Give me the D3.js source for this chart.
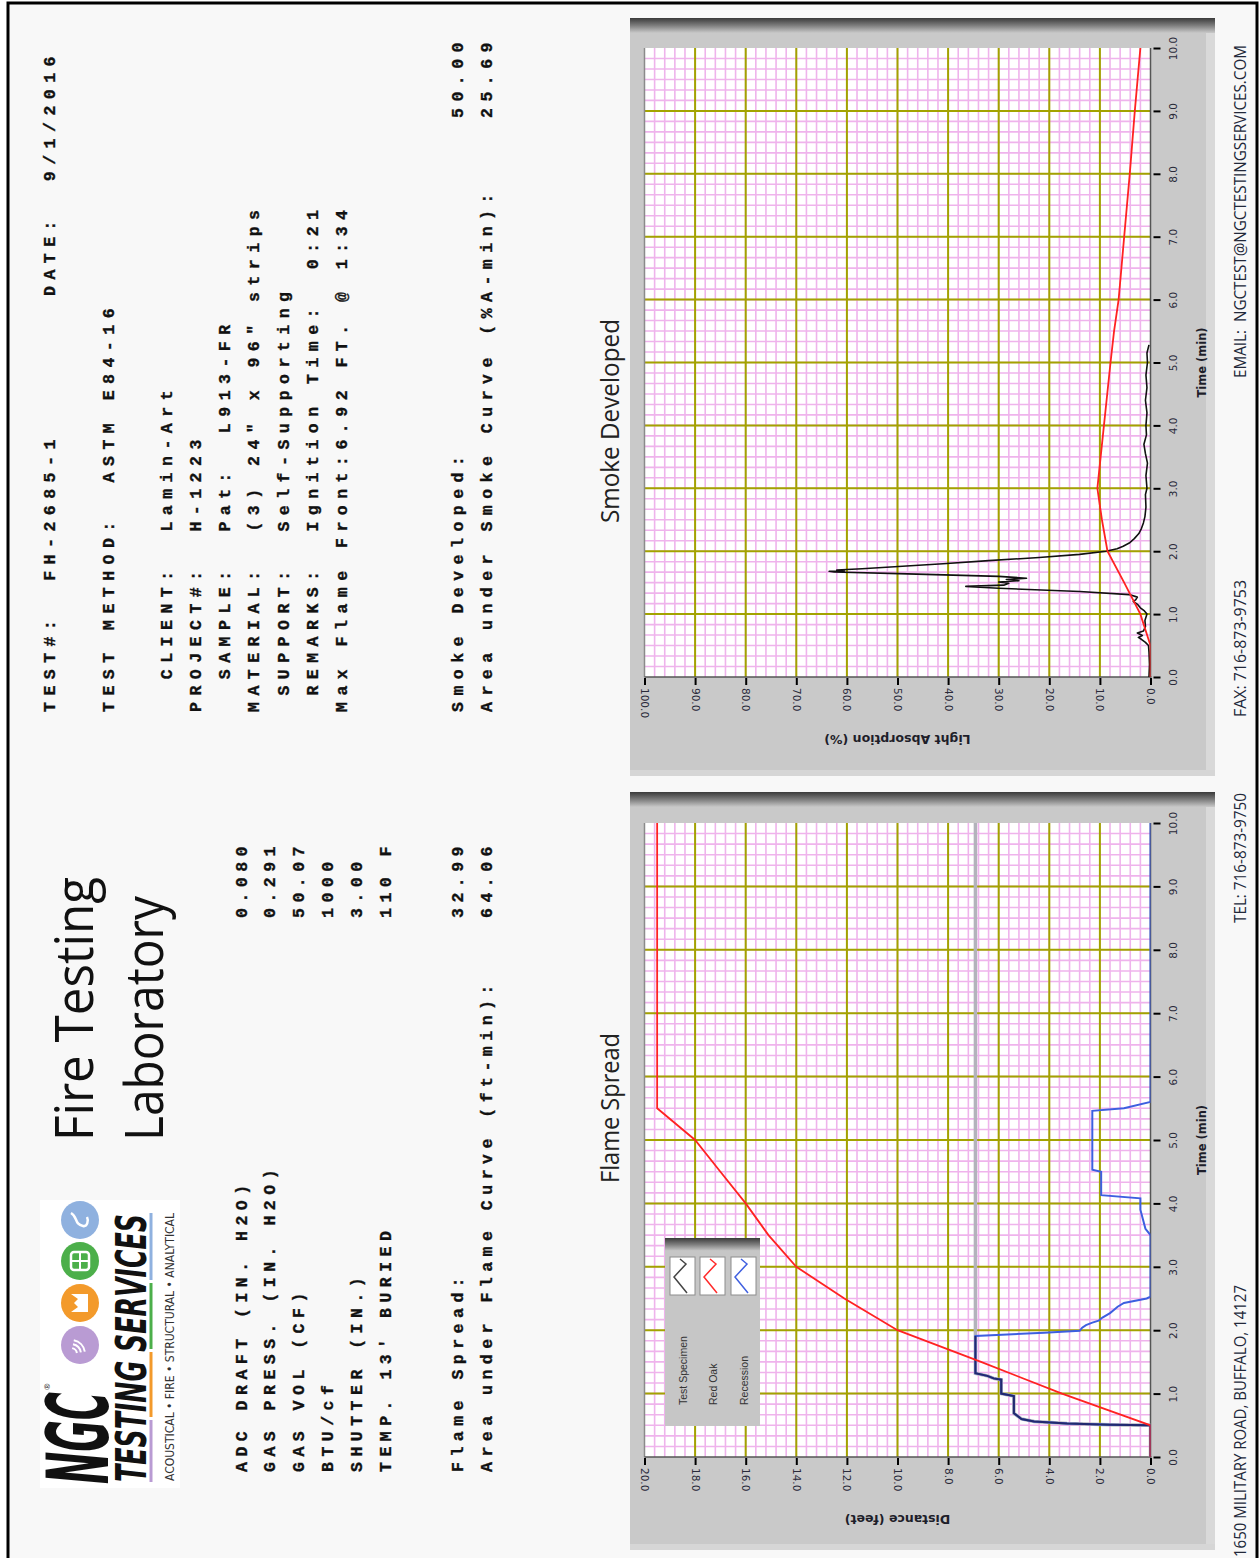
<!DOCTYPE html>
<html><head><meta charset="utf-8">
<script src="https://cdn.jsdelivr.net/npm/d3@7"></script>
<style>body{margin:0;background:#fff}svg{display:block}text{white-space:pre}</style>
</head><body>
<svg id="c" width="1260" height="1558"></svg>
<script>
// ---------------- DATA ----------------
const timeTicks = [0,1,2,3,4,5,6,7,8,9,10];
const smokeTicks = [0,10,20,30,40,50,60,70,80,90,100];
const flameTicks = [0,2,4,6,8,10,12,14,16,18,20];

// [time (min), light absorption %]
const smokeSpecimen = [[0,0.3],[0.2,0.2],[0.4,0.3],[0.5,0.4],[0.55,1.0],[0.6,1.8],[0.63,2.4],[0.66,1.6],[0.7,2.6],[0.73,1.4],[0.8,1.0],[0.9,1.1],[1.0,0.7],[1.05,1.2],[1.1,2.0],[1.15,2.5],[1.2,3.4],[1.23,2.9],[1.27,2.6],[1.31,4.2],[1.36,14],[1.41,30],[1.44,36.5],[1.46,29],[1.49,28],[1.51,30],[1.53,26],[1.55,28.5],[1.57,24.5],[1.6,30],[1.64,48],[1.67,62.5],[1.68,63.5],[1.69,60.5],[1.7,62],[1.72,57],[1.76,49],[1.8,41],[1.85,32],[1.9,22],[1.95,14],[2.0,8.8],[2.04,6.6],[2.08,5.4],[2.13,4.2],[2.2,3.2],[2.28,2.3],[2.36,1.8],[2.45,1.4],[2.55,1.1],[2.7,0.9],[2.9,1.0],[3.0,0.7],[3.2,0.9],[3.4,0.6],[3.55,1.0],[3.7,1.3],[3.85,0.8],[4.0,0.9],[4.2,0.7],[4.4,1.0],[4.6,0.7],[4.8,0.9],[5.0,0.6],[5.15,0.7],[5.28,0.3]];
const smokeRedOak = [[0,0],[0.5,0],[1.0,2.0],[1.5,5.2],[2.0,8.5],[2.5,9.6],[3.0,10.5],[4.0,9.2],[5.0,7.9],[5.5,7.2],[6.0,6.3],[7.0,5.2],[8.0,4.1],[9.0,3.1],[10.0,2.0]];

// [time (min), distance ft]
const flameRedOak = [[0,0],[0.5,0],[1.0,3.5],[1.5,6.7],[2.0,10],[2.5,12.1],[3.0,14],[3.5,15.1],[4.0,16],[4.5,17],[5.0,18],[5.5,19.5],[10,19.5]];
const flameSpecimen = [[0,0],[0.5,0],[0.51,1.6],[0.53,3.3],[0.56,4.6],[0.6,5.1],[0.69,5.4],[0.96,5.4],[1.0,5.9],[1.22,5.9],[1.24,6.2],[1.28,6.45],[1.32,6.92],[1.91,6.92],[10,6.92]];
const flameRecession = [[0,0],[0.5,0],[0.51,1.6],[0.53,3.3],[0.56,4.6],[0.6,5.1],[0.69,5.4],[0.96,5.4],[1.0,5.9],[1.22,5.9],[1.24,6.2],[1.28,6.45],[1.32,6.92],[1.91,6.92],[1.96,4.2],[1.99,2.8],[2.04,2.7],[2.08,2.55],[2.12,2.3],[2.15,2.05],[2.2,1.9],[2.27,1.6],[2.32,1.45],[2.37,1.3],[2.43,1.05],[2.5,0.15],[2.53,0],[3.5,0],[3.6,0.2],[3.75,0.3],[3.9,0.4],[4.08,0.4],[4.13,1.95],[4.5,1.95],[4.53,2.3],[5.46,2.3],[5.5,1.05],[5.6,0],[10,0]];

const legendLabels = ["Test Specimen","Red Oak","Recession"];
const headerLines = ["TEST#:  FH-2685-1","TEST METHOD:  ASTM E84-16","  CLIENT:  Lamin-Art","PROJECT#:  H-1223","  SAMPLE:  Pat:  L913-FR","MATERIAL:  (3) 24\" x 96\" strips"," SUPPORT:  Self-Supporting"," REMARKS:  Ignition Time:  0:21","Max Flame Front:6.92 FT. @ 1:34"];
const dateLine = "DATE:  9/1/2016";
const smokeResultLabels = ["Smoke Developed:","Area under Smoke Curve (%A-min):"];
const smokeResultValues = ["50.00","25.69"];
const gasLabels = ["ADC DRAFT (IN. H2O)","GAS PRESS. (IN. H2O)","GAS VOL (CF)","BTU/cf","SHUTTER (IN.)","TEMP. 13' BURIED"];
const gasValues = ["0.080","0.291","50.07","1000","3.00","110 F"];
const flameResultLabels = ["Flame Spread:","Area under Flame Curve (ft-min):"];
const flameResultValues = ["32.99","64.06"];
const footer = ["1650 MILITARY ROAD, BUFFALO, 14127","TEL: 716-873-9750","FAX: 716-873-9753","EMAIL:  NGCTEST@NGCTESTINGSERVICES.COM"];

// ---------------- DRAW ----------------
const svg = d3.select("#c");
const defs = svg.append("defs");
function vgrad(id, stops){
  const g = defs.append("linearGradient").attr("id",id).attr("x1",0).attr("y1",0).attr("x2",0).attr("y2",1);
  stops.forEach(s=>g.append("stop").attr("offset",s[0]).attr("stop-color",s[1]));
}
vgrad("band",[[0,"#3a3a3a"],[0.5,"#7d7d7d"],[1,"#c9c9c9"]]);

svg.append("rect").attr("width",1260).attr("height",1558).attr("fill","#fff");
svg.append("rect").attr("x",8).attr("y",3).attr("width",1249).attr("height",1560)
  .attr("fill","#f8f8f8").attr("stroke","#000").attr("stroke-width",3);

function rtext(x, y, angle, str, o={}){
  const t = svg.append("text").attr("transform",`translate(${x},${y}) rotate(${angle})`)
    .attr("xml:space","preserve").text(str);
  t.attr("font-family", o.family || "'Open Sans', sans-serif")
   .attr("font-size", o.size || 12)
   .attr("fill", o.fill || "#1a1a1a");
  if (o.weight) t.attr("font-weight", o.weight);
  if (o.style) t.attr("font-style", o.style);
  if (o.anchor) t.attr("text-anchor", o.anchor);
  if (o.ls !== undefined) t.attr("letter-spacing", o.ls);
  if (o.stroke) t.attr("stroke", o.stroke).attr("stroke-width", o.sw || 0.4);
  if (o.len) t.attr("textLength", o.len).attr("lengthAdjust","spacingAndGlyphs");
  return t;
}

// panels
function panel(y0,h){
  svg.append("rect").attr("x",630).attr("y",y0).attr("width",585).attr("height",h).attr("fill","#c9c9c9");
  svg.append("rect").attr("x",1206).attr("y",y0).attr("width",9).attr("height",h).attr("fill","#d9d9d9");
  svg.append("rect").attr("x",630).attr("y",y0+h-6).attr("width",585).attr("height",6).attr("fill","#d6d6d6");
  svg.append("rect").attr("x",630).attr("y",y0).attr("width",585).attr("height",15).attr("fill","url(#band)");
}
panel(18,758);
panel(792,758);

const pink = "#efb3ec", olive = "#a3a300";
const mono = "'Liberation Mono','Courier New',monospace";

function drawChart(c){
  const {t, v, vTicks, vMax, clipId} = c;
  const x0 = v.range()[1], x1 = v.range()[0], y0 = t.range()[1], y1 = t.range()[0];
  const g = svg.append("g");
  g.append("rect").attr("x",x0).attr("y",y0).attr("width",x1-x0).attr("height",y1-y0).attr("fill","#fff");
  defs.append("clipPath").attr("id",clipId).append("rect").attr("x",x0).attr("y",y0).attr("width",x1-x0).attr("height",y1-y0);
  const tMinor = d3.range(1,60).map(i=>i/6);
  const vMinor = d3.range(1,50).map(i=>i*vMax/50);
  g.selectAll(null).data(tMinor).join("line").attr("x1",x0).attr("x2",x1)
    .attr("y1",d=>t(d)).attr("y2",d=>t(d)).attr("stroke",pink).attr("stroke-width",1.6);
  g.selectAll(null).data(vMinor).join("line").attr("y1",y0).attr("y2",y1)
    .attr("x1",d=>v(d)).attr("x2",d=>v(d)).attr("stroke",pink).attr("stroke-width",1.6);
  g.selectAll(null).data(timeTicks.slice(1,-1)).join("line").attr("x1",x0).attr("x2",x1)
    .attr("y1",d=>t(d)).attr("y2",d=>t(d)).attr("stroke",olive).attr("stroke-width",2);
  g.selectAll(null).data(vTicks.slice(1,-1)).join("line").attr("y1",y0).attr("y2",y1)
    .attr("x1",d=>v(d)).attr("x2",d=>v(d)).attr("stroke",olive).attr("stroke-width",2);
  g.append("line").attr("x1",x0).attr("x2",x0).attr("y1",y0).attr("y2",y1).attr("stroke","#8a8a8a").attr("stroke-width",1.5);
  g.append("line").attr("x1",x0).attr("x2",x1+1).attr("y1",y1).attr("y2",y1).attr("stroke","#555").attr("stroke-width",1.5);
  g.append("line").attr("x1",x1).attr("x2",x1).attr("y1",y0).attr("y2",y1).attr("stroke","#555").attr("stroke-width",1.5);

  const ta = g.append("g").attr("transform",`translate(${x1+3},0)`)
    .call(d3.axisRight(t).tickValues(timeTicks).tickSize(7).tickFormat(d3.format(".1f")));
  ta.select(".domain").remove();
  ta.selectAll(".tick line").attr("stroke","#000").attr("stroke-width",2);
  ta.selectAll(".tick text").attr("x",null).attr("dy",null).attr("fill","#2a2a3a")
    .attr("font-family","'DejaVu Sans',sans-serif").attr("font-size",10.5)
    .attr("text-anchor","middle").attr("transform","translate(23,0) rotate(-90)");
  const va = g.append("g").attr("transform",`translate(0,${y1+1})`)
    .call(d3.axisBottom(v).tickValues(vTicks).tickSize(7).tickFormat(d3.format(".1f")));
  va.select(".domain").remove();
  va.selectAll(".tick line").attr("stroke","#000").attr("stroke-width",2);
  va.selectAll(".tick text").attr("y",null).attr("dy",null).attr("fill","#2a2a3a")
    .attr("font-family","'DejaVu Sans',sans-serif").attr("font-size",10.5)
    .attr("text-anchor","start").attr("transform","translate(-4,10) rotate(90)");

  rtext(x1+55, (y0+y1)/2, -90, "Time (min)", {family:"'DejaVu Sans',sans-serif", weight:"bold", size:11.5, anchor:"middle", fill:"#1e1e2a"});
  rtext((x0+x1)/2, y1+58, 180, c.vTitle, {family:"'DejaVu Sans',sans-serif", weight:"bold", size:12.5, anchor:"middle", fill:"#1e1e2a"});
  rtext(619, c.titleY, -90, c.title, {size:25, anchor:"middle", fill:"#222", len:c.titleLen});
  return g.append("g").attr("clip-path",`url(#${clipId})`);
}

const tS = d3.scaleLinear([0,10],[677,48]);
const vS = d3.scaleLinear([0,100],[1150.5,644.5]);
const tF = d3.scaleLinear([0,10],[1457,823]);
const vF = d3.scaleLinear([0,20],[1150.5,644.5]);

const gs = drawChart({t:tS, v:vS, vTicks:smokeTicks, vMax:100, clipId:"cs", vTitle:"Light Absorption (%)", title:"Smoke Developed", titleY:421, titleLen:204});
const lineS = d3.line().x(d=>vS(d[1])).y(d=>tS(d[0]));
gs.append("path").attr("d",lineS(smokeSpecimen)).attr("fill","none").attr("stroke","#111").attr("stroke-width",1.6).attr("stroke-linejoin","round");
gs.append("path").attr("d",lineS(smokeRedOak)).attr("fill","none").attr("stroke","#ff2222").attr("stroke-width",1.8);

const gf = drawChart({t:tF, v:vF, vTicks:flameTicks, vMax:20, clipId:"cf", vTitle:"Distance (feet)", title:"Flame Spread", titleY:1108, titleLen:150});
const lineF = d3.line().x(d=>vF(d[1])).y(d=>tF(d[0]));
gf.append("path").attr("d",lineF(flameSpecimen)).attr("fill","none").attr("stroke","#b3b3bb").attr("stroke-width",3.5);
gf.append("path").attr("d",lineF(flameRecession)).attr("fill","none").attr("stroke","#3d5fe0").attr("stroke-width",2);
gf.append("path").attr("d",lineF(flameSpecimen.filter(d=>d[0]<=1.91))).attr("fill","none").attr("stroke","#232a6e").attr("stroke-width",2);
gf.append("path").attr("d",lineF(flameRedOak)).attr("fill","none").attr("stroke","#ff2222").attr("stroke-width",1.8);

// Legend
svg.append("rect").attr("x",665).attr("y",1238).attr("width",95).attr("height",188).attr("fill","#c6c6c6");
svg.append("rect").attr("x",665).attr("y",1238).attr("width",95).attr("height",13).attr("fill","url(#band)");
const legColors = ["#444","#ff2a2a","#4060e0"];
const legX = [670,700,731];
legendLabels.forEach((lab,i)=>{
  const x = legX[i];
  svg.append("rect").attr("x",x).attr("y",1257).attr("width",25).attr("height",38).attr("fill","#fff").attr("stroke","#8c8c8c").attr("stroke-width",1);
  svg.append("polyline").attr("points",[[x+10,1259],[x+16,1264],[x+4,1277],[x+17,1293]].map(p=>p.join(",")).join(" "))
    .attr("fill","none").attr("stroke",legColors[i]).attr("stroke-width",1.5);
  rtext(x+17, 1405, -90, lab, {family:"'Liberation Sans',sans-serif", size:10.5, fill:"#333"});
});

// ---- Text blocks (monospace) ----
const PU = 16.4, PL = 15.4, FS = 16.5, ADV = FS*0.6;
const monoU = {family:mono, weight:"bold", size:FS, ls:PU-ADV, fill:"#111", stroke:"#111", sw:0.35};
const monoL = {family:mono, weight:"bold", size:FS, ls:PL-ADV, fill:"#111", stroke:"#111", sw:0.35};
const headerX = [49,108,166,195,224,253,283,312,341];
headerLines.forEach((s,i)=>rtext(headerX[i]+6, 712, -90, s, monoU));
rtext(49+6, 296, -90, dateLine, monoU);
smokeResultLabels.forEach((s,i)=>rtext([457,486][i]+6, 712, -90, s, monoU));
smokeResultValues.forEach((s,i)=>rtext([457,486][i]+6, 118, -90, s, monoU));
const gasX = [241,269,298,327,356,385];
gasLabels.forEach((s,i)=>rtext(gasX[i]+6, 1472, -90, s, monoL));
gasValues.forEach((s,i)=>rtext(gasX[i]+6, 918, -90, s, monoL));
flameResultLabels.forEach((s,i)=>rtext([457,486][i]+6, 1472, -90, s, monoL));
flameResultValues.forEach((s,i)=>rtext([457,486][i]+6, 918, -90, s, monoL));

// Big title
rtext(93, 1141, -90, "Fire Testing", {size:53, fill:"#111", len:264});
rtext(163, 1141, -90, "Laboratory", {size:53, fill:"#111", len:245});

// Logo
svg.append("rect").attr("x",40).attr("y",1200).attr("width",140).attr("height",288).attr("fill","#fff");
rtext(108, 1484, -90, "NGC", {family:"'DejaVu Sans',sans-serif", weight:"bold", style:"italic", size:86, fill:"#111", len:92});
rtext(50, 1390, -90, "®", {size:8, fill:"#111"});
rtext(146, 1482, -90, "TESTING SERVICES", {family:"'DejaVu Sans',sans-serif", weight:"bold", style:"italic", size:42, fill:"#111", len:268});
rtext(174, 1481, -90, "ACOUSTICAL • FIRE • STRUCTURAL • ANALYTICAL", {family:"'DejaVu Sans',sans-serif", size:11.5, fill:"#333", len:268});
[[1482,1420,"#b99bd3"],[1417,1352,"#f39a2b"],[1349,1283,"#4caf4a"],[1280,1213,"#8fb1df"]].forEach(s=>{
  svg.append("line").attr("x1",151).attr("x2",151).attr("y1",s[0]).attr("y2",s[1]).attr("stroke",s[2]).attr("stroke-width",3);
});
const circ = [[1345,"#b99bd3"],[1303,"#f39a2b"],[1261,"#4caf4a"],[1220,"#8fb1df"]];
circ.forEach(c=>svg.append("circle").attr("cx",80).attr("cy",c[0]).attr("r",19).attr("fill",c[1]));
[5,9,13].forEach(r=>svg.append("path").attr("transform","translate(71,1354)")
  .attr("d",d3.arc()({innerRadius:r,outerRadius:r+2,startAngle:0.2,endAngle:1.4})).attr("fill","#fff"));
svg.append("path").attr("d","M71,1294 L88,1294 L88,1312 L71,1312 L78,1307 L74,1303 L78,1299 Z").attr("fill","#fff");
svg.append("rect").attr("x",71).attr("y",1252).attr("width",18).attr("height",18).attr("rx",3).attr("fill","none").attr("stroke","#fff").attr("stroke-width",2.5);
svg.append("path").attr("d","M80,1252 L80,1270 M71,1261 L89,1261").attr("stroke","#fff").attr("stroke-width",2);
svg.append("path").attr("d","M71,1213 C78,1217 74,1224 83,1226 C87,1227 89,1221 87,1217").attr("fill","none").attr("stroke","#fff").attr("stroke-width",2.5);

// Footer
const footY = [1557,923,717,378];
const footLen = [272,130,137,333];
footer.forEach((s,i)=>rtext(1246, footY[i], -90, s, {family:"'Open Sans',sans-serif", size:16, fill:"#22283a", len:footLen[i]}));
</script>
</body></html>
